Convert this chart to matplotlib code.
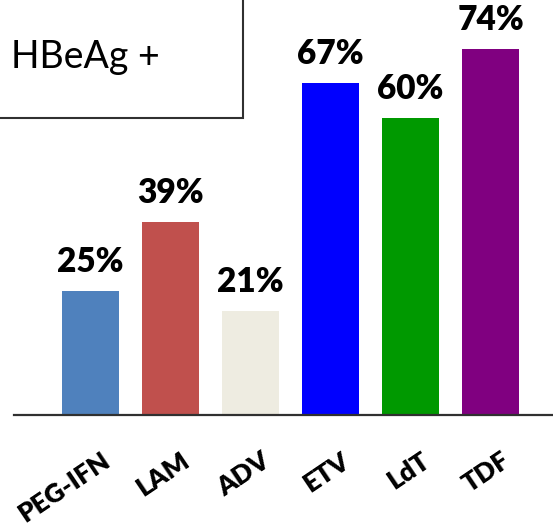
import matplotlib.pyplot as plt
from matplotlib.patches import Rectangle

drugs = ['PEG-IFN', 'LAM', 'ADV', 'ETV', 'LdT', 'TDF']
rates = [25, 39, 21, 67, 60, 74]
colors = ['#4F81BD', '#C0504D', '#EEECE1', '#0000FF', '#009900', '#800080']

plt.rcParams['font.family'] = ['Lato', 'DejaVu Sans']

fig = plt.figure(figsize=(5.53, 5.26), dpi=100)
ax = fig.add_axes([14 / 553, 111 / 526, 539 / 553, 415 / 526])

x = list(range(len(drugs)))
bars = ax.bar(x, rates, width=0.71, color=colors)
ax.set_xlim(-0.956, 5.78)
ax.set_ylim(0, 83.8)

for b, v in zip(bars, rates):
    ax.annotate(f'{v}%', (b.get_x() + b.get_width() / 2, v),
                xytext=(0, 13.5), textcoords='offset points',
                ha='center', va='baseline', fontsize=24, fontweight='heavy')

# rotated category labels
for xi, name in zip(x, drugs):
    ax.annotate(name, (xi, 0), xytext=(12, -31), textcoords='offset points',
                ha='right', va='center', rotation=34, rotation_mode='anchor',
                fontsize=19, fontweight='heavy', annotation_clip=False)

for s in ['top', 'right', 'left']:
    ax.spines[s].set_visible(False)
ax.spines['bottom'].set_linewidth(1.6)
ax.spines['bottom'].set_color('#303030')
ax.set_xticks([])
ax.set_yticks([])

# title box
fig.patches.append(Rectangle((-0.01, 1 - 118 / 526), 0.01 + 243 / 553, 0.3,
                             transform=fig.transFigure, fill=False,
                             edgecolor='#303030', linewidth=1.5))
fig.text(11 / 553, 1 - 68 / 526, 'HBeAg +', fontsize=27, ha='left', va='baseline')

fig.savefig('out.png', dpi=100)
